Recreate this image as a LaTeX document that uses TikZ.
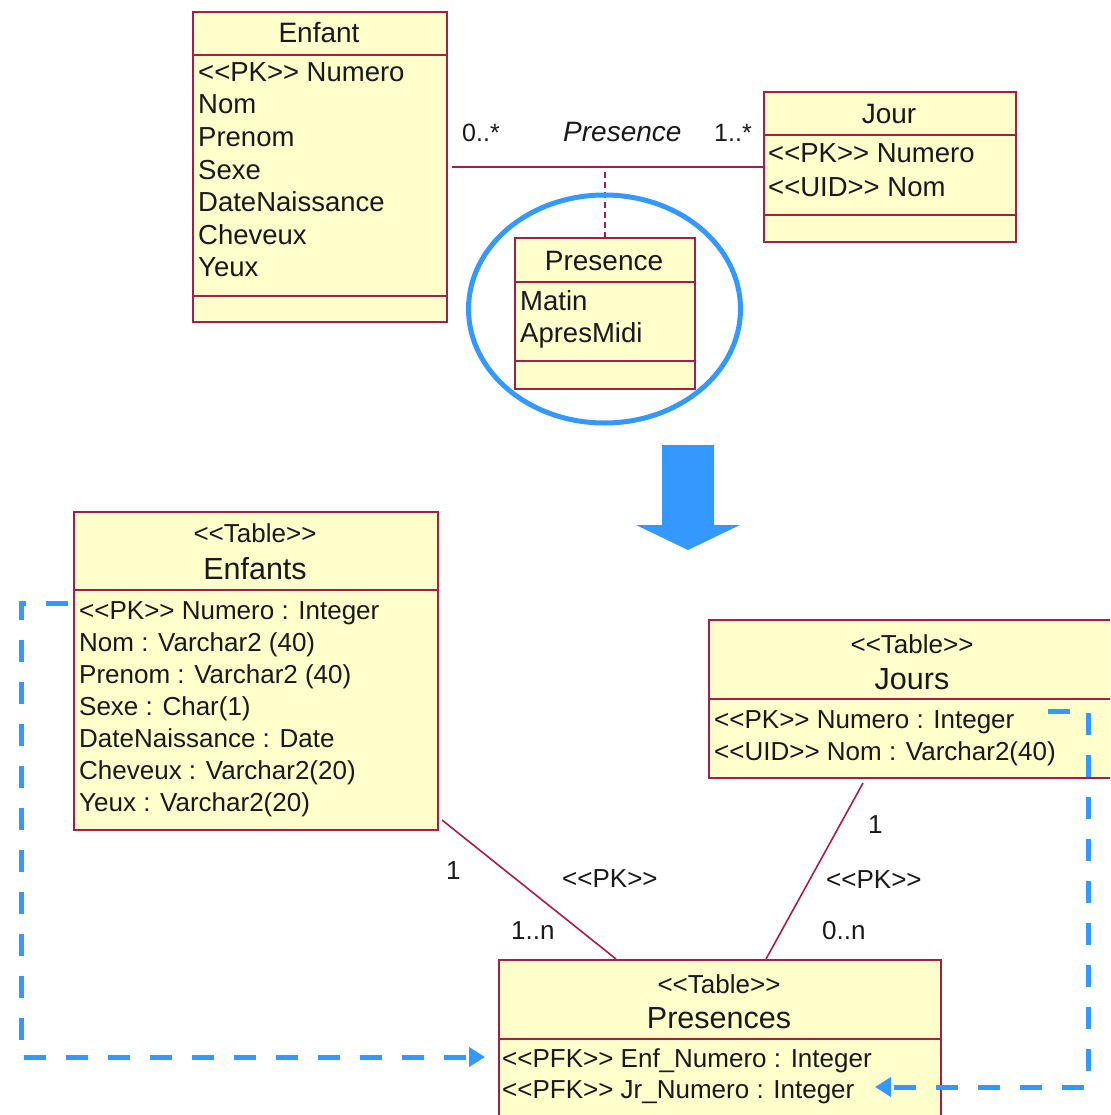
\documentclass[tikz,border=0pt]{standalone}
\usepackage{fontspec}
\setmainfont{Liberation Sans}[Ligatures=TeXOff]
\usetikzlibrary{arrows.meta,calc}
\definecolor{umlred}{RGB}{165,30,75}
\definecolor{umlfill}{RGB}{255,255,204}
\definecolor{hiblue}{RGB}{51,153,255}
\definecolor{ink}{RGB}{25,25,25}
\begin{document}
\begin{tikzpicture}[x=1pt,y=-1pt,
  cls/.style={draw=umlred,fill=umlfill,line width=2pt,inner sep=0pt,anchor=north west},
  sepline/.style={draw=umlred,line width=2pt},
  assoc/.style={draw=umlred,line width=1.6pt},
  linkline/.style={draw=umlred,line width=1.8pt,dash pattern=on 6pt off 4pt},
  fk/.style={draw=hiblue,line width=5pt,dash pattern=on 22pt off 20pt,-{Triangle[length=16pt,width=19pt]}},
  txt/.style={inner sep=0pt,text=ink,font=\fontsize{#1}{#1}\selectfont},
  attrtop/.style={txt=27.5,anchor=base west},
  titletop/.style={txt=28,anchor=base},
  attrbot/.style={txt=26,anchor=base west},
  stereo/.style={txt=26,anchor=base},
  titlebot/.style={txt=30.5,anchor=base},
  lbl/.style={txt=26,anchor=base west},
  lbltop/.style={txt=25,anchor=base west}]
\useasboundingbox (0,0) rectangle (1110,1115);
\clip (0,0) rectangle (1110,1115);
% ---------- top: Enfant ----------
\node[cls,minimum width=254pt,minimum height=310pt] (enfant) at (192,11) {};
\draw[sepline] ($(enfant.north west)+(0,44)$) -- ($(enfant.north east)+(0,44)$);
\draw[sepline] ($(enfant.north west)+(0,285)$) -- ($(enfant.north east)+(0,285)$);
\node[titletop] (enfantT) at (319,43) {Enfant};
\node[attrtop] (ea1) at (198,82) {<<PK>> Numero};
\node[attrtop] (ea2) at (198,114) {Nom};
\node[attrtop] (ea3) at (198,147) {Prenom};
\node[attrtop] (ea4) at (198,180) {Sexe};
\node[attrtop] (ea5) at (198,212) {DateNaissance};
\node[attrtop] (ea6) at (198,244) {Cheveux};
\node[attrtop] (ea7) at (198,276) {Yeux};
% ---------- top: Jour ----------
\node[cls,minimum width=252pt,minimum height=150pt] (jour) at (763,91) {};
\draw[sepline] ($(jour.north west)+(0,44)$) -- ($(jour.north east)+(0,44)$);
\draw[sepline] ($(jour.north west)+(0,124)$) -- ($(jour.north east)+(0,124)$);
\node[titletop] (jourT) at (889,124) {Jour};
\node[attrtop] (ja1) at (768,163) {<<PK>> Numero};
\node[attrtop] (ja2) at (768,197) {<<UID>> Nom};
% ---------- top: Presence ----------
\node[cls,minimum width=180pt,minimum height=151pt] (presence) at (514,237) {};
\draw[sepline] ($(presence.north west)+(0,45)$) -- ($(presence.north east)+(0,45)$);
\draw[sepline] ($(presence.north west)+(0,124)$) -- ($(presence.north east)+(0,124)$);
\node[titletop] (presenceT) at (604,270) {Presence};
\node[attrtop] (pa1) at (520,310) {Matin};
\node[attrtop] (pa2) at (520,342) {ApresMidi};
% association
\draw[assoc] ([xshift=4pt]enfant.east |- jour.west) -- (jour.west);
\node[lbltop] (m1) at (462,142) {0..*};
\node[txt=28,anchor=base west,font=\fontsize{28}{28}\selectfont\itshape] (an) at (563,142) {Presence};
\node[lbltop] (m2) at (714,142) {1..*};
\draw[linkline] ($(presence.north)+(0,-65)$) -- (presence.north);
% highlight circle
\draw[hiblue,line width=5pt] (604.5,309) ellipse [x radius=136pt, y radius=114pt];
% big arrow
\fill[hiblue] (662,445) -- (714,445) -- (714,525) -- (740,525) -- (688,550) -- (636,525) -- (662,525) -- cycle;
% ---------- bottom: Enfants ----------
\node[cls,minimum width=364pt,minimum height=318pt] (enfants) at (73,511) {};
\draw[sepline] ($(enfants.north west)+(0,79)$) -- ($(enfants.north east)+(0,79)$);
\node[stereo] (esT) at (255,542) {<<Table>>};
\node[titlebot] (enT) at (255,579) {Enfants};
\node[attrbot] (ta1) at (79,619) {<<PK>> Numero : Integer};
\node[attrbot] (ta2) at (79,651) {Nom : Varchar2 (40)};
\node[attrbot] (ta3) at (79,683) {Prenom : Varchar2 (40)};
\node[attrbot] (ta4) at (79,715) {Sexe : Char(1)};
\node[attrbot] (ta5) at (79,747) {DateNaissance : Date};
\node[attrbot] (ta6) at (79,779) {Cheveux : Varchar2(20)};
\node[attrbot] (ta7) at (79,811) {Yeux : Varchar2(20)};
% ---------- bottom: Jours ----------
\node[cls,minimum width=410pt,minimum height=158pt] (jours) at (708,619) {};
\draw[sepline] ($(jours.north west)+(0,80)$) -- ($(jours.north east)+(0,80)$);
\node[stereo] (jsT) at (912,653) {<<Table>>};
\node[titlebot] (joT) at (912,689) {Jours};
\node[attrbot] (jb1) at (714,728) {<<PK>> Numero : Integer};
\node[attrbot] (jb2) at (714,760) {<<UID>> Nom : Varchar2(40)};
% ---------- bottom: Presences ----------
\node[cls,minimum width=442pt,minimum height=200pt] (presences) at (498,959) {};
\draw[sepline] ($(presences.north west)+(0,80)$) -- ($(presences.north east)+(0,80)$);
\node[stereo] (psT) at (719,993) {<<Table>>};
\node[titlebot] (prT) at (719,1028) {Presences};
\node[attrbot] (pb1) at (502,1067) {<<PFK>> Enf\_Numero : Integer};
\node[attrbot] (pb2) at (502,1098) {<<PFK>> Jr\_Numero : Integer};
% relations
\draw[assoc] ($(enfants.south east)+(3,-11)$) -- ($(presences.north west)+(118,0)$);
\draw[assoc] ($(jours.south west)+(155,4)$) -- ($(presences.north west)+(268,0)$);
\node[lbl] (l1) at (446,879) {1};
\node[lbl] (l2) at (562,887) {<<PK>>};
\node[lbl] (l3) at (511,939) {1..n};
\node[lbl] (r1) at (868,833) {1};
\node[lbl] (r2) at (826,888) {<<PK>>};
\node[lbl] (r3) at (822,939) {0..n};
% foreign key arrows
\draw[fk] ($(enfants.north west)+(-5,92)$) -- ++(-47,0) |- ($(presences.north west)+(-13,98)$);
\draw[fk] ($(jours.north west)+(340,92)$) -- ++(40,0) |- ($(presences.north east)+(-67,128)$);
\end{tikzpicture}
\end{document}
